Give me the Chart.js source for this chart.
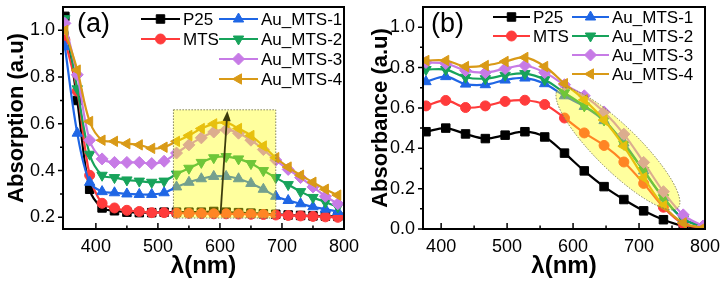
<!DOCTYPE html>
<html>
<head>
<meta charset="utf-8">
<script src="https://cdn.jsdelivr.net/npm/chart.js@4.4.1/dist/chart.umd.min.js"></script>
<style>
  html, body { margin: 0; padding: 0; background: #fff; }
  #wrap { position: relative; width: 727px; height: 283px; }
  canvas { position: absolute; top: 0; }
</style>
</head>
<body>
<div id="wrap">
  <canvas id="chartA" width="364" height="283" style="left:0"></canvas>
  <canvas id="chartB" width="363" height="283" style="left:364px"></canvas>
</div>
<script>
// ---- data, panel (a): absorption vs wavelength
const waveA = [350, 370, 390, 410, 430, 450, 470, 490, 510, 530, 550, 570, 590, 610, 630, 650, 670, 690, 710, 730, 750, 770, 790]
const p25A = [1.06, 0.70, 0.32, 0.24, 0.228, 0.222, 0.22, 0.22, 0.222, 0.222, 0.222, 0.222, 0.225, 0.222, 0.22, 0.218, 0.215, 0.213, 0.21, 0.208, 0.206, 0.205, 0.204]
const mtsA = [0.96, 0.74, 0.38, 0.26, 0.24, 0.23, 0.225, 0.22, 0.22, 0.218, 0.217, 0.216, 0.215, 0.215, 0.214, 0.213, 0.212, 0.21, 0.208, 0.206, 0.204, 0.202, 0.2]
const au1A = [0.93, 0.56, 0.35, 0.31, 0.305, 0.30, 0.298, 0.298, 0.305, 0.33, 0.35, 0.365, 0.375, 0.375, 0.365, 0.345, 0.32, 0.29, 0.272, 0.258, 0.245, 0.235, 0.225]
const au2A = [1.05, 0.75, 0.47, 0.38, 0.37, 0.36, 0.355, 0.35, 0.355, 0.385, 0.41, 0.435, 0.455, 0.46, 0.45, 0.43, 0.40, 0.37, 0.34, 0.31, 0.285, 0.265, 0.245]
const au3A = [1.03, 0.81, 0.53, 0.45, 0.435, 0.435, 0.435, 0.43, 0.44, 0.475, 0.51, 0.54, 0.565, 0.575, 0.56, 0.53, 0.49, 0.445, 0.405, 0.37, 0.33, 0.29, 0.258]
const au4A = [1.0, 0.83, 0.61, 0.53, 0.525, 0.515, 0.51, 0.495, 0.50, 0.525, 0.55, 0.58, 0.60, 0.605, 0.58, 0.55, 0.505, 0.455, 0.415, 0.38, 0.35, 0.32, 0.295]

// ---- data, panel (b): absorbance vs wavelength
const waveB = [377, 407, 437, 467, 497, 527, 557, 587, 617, 647, 677, 707, 737, 767, 797]
const p25B = [0.482, 0.50, 0.471, 0.448, 0.465, 0.482, 0.456, 0.376, 0.288, 0.21, 0.146, 0.09, 0.046, 0.015, 0.005]
const mtsB = [0.61, 0.637, 0.602, 0.61, 0.632, 0.638, 0.617, 0.55, 0.476, 0.414, 0.332, 0.226, 0.108, 0.026, 0.005]
const au1B = [0.73, 0.755, 0.718, 0.715, 0.738, 0.748, 0.72, 0.66, 0.607, 0.537, 0.426, 0.288, 0.154, 0.05, 0.013]
const au2B = [0.79, 0.79, 0.752, 0.745, 0.762, 0.77, 0.74, 0.675, 0.61, 0.54, 0.42, 0.29, 0.155, 0.05, 0.01]
const au3B = [0.825, 0.82, 0.785, 0.775, 0.795, 0.81, 0.775, 0.715, 0.66, 0.58, 0.47, 0.33, 0.185, 0.07, 0.015]
const au4B = [0.835, 0.835, 0.805, 0.81, 0.83, 0.85, 0.805, 0.72, 0.64, 0.54, 0.41, 0.255, 0.115, 0.03, 0.005]

// ---- ticks
const xTicks = [400, 500, 600, 700, 800]
const xMinor = [450, 550, 650, 750]
const yTicksA = [0.2, 0.4, 0.6, 0.8, 1.0]
const yMinorA = [0.3, 0.5, 0.7, 0.9]
const yTicksB = [0, 0.2, 0.4, 0.6, 0.8, 1.0]
const yMinorB = [0.1, 0.3, 0.5, 0.7, 0.9]

const seriesNames = ['P25', 'MTS', 'Au_MTS-1', 'Au_MTS-2', 'Au_MTS-3', 'Au_MTS-4']

// styles
const seriesColors = ['#000000', '#FF3B3B', '#1F66E5', '#17A35B', '#C77BE6', '#D99A17']
const markerStyles = ['rect', 'circle', 'triangle', 'triangle', 'rectRot', 'triangle']
const markerRotations = [0, 0, 0, 180, 0, -90]
const markerSizes = [6, 5, 6, 6, 6, 6]
const fontFamily = "'Liberation Sans', Arial, sans-serif"

function buildDatasets(xs, seriesList) {
    return seriesList.map((vals, i) => ({
        label: seriesNames[i],
        data: xs.map((x, k) => ({x: x, y: vals[k]})),
        borderColor: seriesColors[i],
        backgroundColor: seriesColors[i],
        borderWidth: 2.2,
        pointStyle: markerStyles[i],
        pointRotation: markerRotations[i],
        pointRadius: markerSizes[i],
        pointBorderWidth: 1,
        tension: 0.35,
        order: 5 - i,
    }))
}

// highlight, frame, inward ticks, legend and panel letter
function makeDecor(cfg) {
    return {
        id: 'decor',
        afterDatasetsDraw(chart) {
            const ctx = chart.ctx
            const xs = chart.scales.x
            const ys = chart.scales.y
            const h = cfg.highlight
            ctx.save()
            ctx.fillStyle = 'rgba(255,255,0,0.38)'
            ctx.strokeStyle = '#80805a'
            ctx.lineWidth = 1
            ctx.setLineDash([1.5, 1.5])
            ctx.beginPath()
            const ax = xs.getPixelForValue(h.x0), ay = ys.getPixelForValue(h.y0)
            const bx = xs.getPixelForValue(h.x1), by = ys.getPixelForValue(h.y1)
            if (h.type === 'rect') {
                ctx.rect(ax, by, bx - ax, ay - by)
            } else {
                const cx = (ax + bx) / 2, cy = (ay + by) / 2
                const rx = Math.hypot(bx - ax, by - ay) / 2
                ctx.ellipse(cx, cy, rx, h.halfWidth, Math.atan2(by - ay, bx - ax), 0, Math.PI * 2)
            }
            ctx.fill()
            ctx.stroke()
            ctx.setLineDash([])
            if (cfg.arrow) {
                const a = cfg.arrow
                const x0 = xs.getPixelForValue(a.x0), y0 = ys.getPixelForValue(a.y0)
                const x1 = xs.getPixelForValue(a.x1), y1 = ys.getPixelForValue(a.y1)
                const ang = Math.atan2(y1 - y0, x1 - x0)
                ctx.strokeStyle = '#3b3b0c'
                ctx.fillStyle = '#3b3b0c'
                ctx.lineWidth = 1.8
                ctx.beginPath()
                ctx.moveTo(x0, y0)
                ctx.lineTo(x1 - Math.cos(ang) * 8, y1 - Math.sin(ang) * 8)
                ctx.stroke()
                ctx.beginPath()
                ctx.moveTo(x1, y1)
                ctx.lineTo(x1 - Math.cos(ang) * 10 + Math.sin(ang) * 4, y1 - Math.sin(ang) * 10 - Math.cos(ang) * 4)
                ctx.lineTo(x1 - Math.cos(ang) * 10 - Math.sin(ang) * 4, y1 - Math.sin(ang) * 10 + Math.cos(ang) * 4)
                ctx.closePath()
                ctx.fill()
            }
            ctx.restore()
        },
        afterDraw(chart) {
            const ctx = chart.ctx
            const area = chart.chartArea
            const xs = chart.scales.x
            const ys = chart.scales.y
            ctx.save()
            ctx.strokeStyle = '#000'
            ctx.lineWidth = 1.5
            ctx.beginPath()
            xTicks.forEach(v => {
                const p = xs.getPixelForValue(v)
                ctx.moveTo(p, area.bottom); ctx.lineTo(p, area.bottom - 6)
            })
            xMinor.forEach(v => {
                const p = xs.getPixelForValue(v)
                ctx.moveTo(p, area.bottom); ctx.lineTo(p, area.bottom - 3.5)
            })
            cfg.yTicks.forEach(v => {
                const p = ys.getPixelForValue(v)
                ctx.moveTo(area.left, p); ctx.lineTo(area.left - 5, p)
            })
            cfg.yMinor.forEach(v => {
                const p = ys.getPixelForValue(v)
                ctx.moveTo(area.left, p); ctx.lineTo(area.left - 3, p)
            })
            ctx.stroke()
            ctx.lineWidth = 2
            ctx.strokeRect(area.left, area.top, area.right - area.left, area.bottom - area.top)

            // legend
            const lg = cfg.legend
            ctx.font = '17px ' + fontFamily
            ctx.textBaseline = 'middle'
            ctx.textAlign = 'left'
            lg.entries.forEach((e, i) => {
                const x0 = lg.cols[e[0]]
                const y = lg.rows[e[1]]
                const ds = chart.data.datasets[i]
                ctx.strokeStyle = ds.borderColor
                ctx.fillStyle = ds.backgroundColor
                ctx.lineWidth = 2.2
                ctx.beginPath()
                ctx.moveTo(x0, y); ctx.lineTo(x0 + lg.len, y)
                ctx.stroke()
                ctx.lineWidth = 1
                Chart.helpers.drawPoint(ctx, {
                    pointStyle: ds.pointStyle, rotation: ds.pointRotation,
                    radius: ds.pointRadius, borderWidth: 1
                }, x0 + lg.len / 2, y)
                ctx.fillStyle = '#000'
                ctx.fillText(ds.label, x0 + lg.len + 3, y + 1)
            })

            // panel letter
            ctx.font = '27px ' + fontFamily
            ctx.textBaseline = 'alphabetic'
            ctx.fillStyle = '#000'
            ctx.fillText(cfg.letter.text, cfg.letter.x, cfg.letter.y)
            ctx.restore()
        }
    }
}

function makeChart(canvasId, xs, seriesList, cfg) {
    const ctx = document.getElementById(canvasId).getContext('2d')
    return new Chart(ctx, {
        type: 'line',
        data: {datasets: buildDatasets(xs, seriesList)},
        options: {
            responsive: false,
            animation: false,
            devicePixelRatio: 1,
            layout: {padding: {left: 0, right: cfg.padRight, top: 3, bottom: 0}},
            scales: {
                x: {
                    type: 'linear',
                    min: cfg.xMin,
                    max: 800,
                    afterBuildTicks: s => { s.ticks = xTicks.map(v => ({value: v})) },
                    afterFit: s => {
                        s.height = 54
                        s.paddingLeft = 0
                        s.paddingRight = 0
                    },
                    grid: {drawOnChartArea: false, drawTicks: false},
                    border: {display: false},
                    ticks: {
                        color: '#000',
                        padding: 7,
                        maxRotation: 0,
                        autoSkip: false,
                        font: {size: 18, family: fontFamily},
                        callback: v => String(v),
                    },
                    title: {
                        display: true,
                        text: 'λ(nm)',
                        color: '#000',
                        font: {size: 24, weight: 'bold', family: fontFamily},
                        padding: {top: 0, bottom: 2},
                    },
                },
                y: {
                    min: cfg.yMin,
                    max: 1.1,
                    afterBuildTicks: s => { s.ticks = cfg.yTicks.map(v => ({value: v})) },
                    afterFit: s => {
                        s.width = cfg.yWidth
                        s.paddingTop = 0
                        s.paddingBottom = 0
                    },
                    grid: {drawOnChartArea: false, drawTicks: false},
                    border: {display: false},
                    ticks: {
                        color: '#000',
                        padding: 8,
                        autoSkip: false,
                        font: {size: 18, family: fontFamily},
                        callback: v => Number(v).toFixed(1),
                    },
                    title: {
                        display: true,
                        text: cfg.yTitle,
                        color: '#000',
                        font: {size: 22, weight: 'bold', family: fontFamily},
                    },
                },
            },
            plugins: {
                legend: {display: false},
                tooltip: {enabled: false},
            },
        },
        plugins: [makeDecor(cfg)],
    })
}

makeChart('chartA', waveA, [p25A, mtsA, au1A, au2A, au3A, au4A], {
    xMin: 347, yMin: 0.15, yWidth: 63, padRight: 20,
    yTicks: yTicksA, yMinor: yMinorA,
    yTitle: 'Absorption (a.u)',
    highlight: {type: 'rect', x0: 525, y0: 0.197, x1: 690, y1: 0.66},
    arrow: {x0: 601, y0: 0.215, x1: 612, y1: 0.655},
    legend: {cols: [141, 219], rows: [19, 39, 59, 79], len: 39,
        entries: [[0, 0], [0, 1], [1, 0], [1, 1], [1, 2], [1, 3]]},
    letter: {text: '(a)', x: 77, y: 32},
})

makeChart('chartB', waveB, [p25B, mtsB, au1B, au2B, au3B, au4B], {
    xMin: 372.5, yMin: 0, yWidth: 59, padRight: 22,
    yTicks: yTicksB, yMinor: yMinorB,
    yTitle: 'Absorbance (a.u)',
    highlight: {type: 'ellipse', x0: 577, y0: 0.69, x1: 759, y1: 0.105, halfWidth: 22},
    legend: {cols: [129, 208], rows: [17, 36, 55, 74], len: 37,
        entries: [[0, 0], [0, 1], [1, 0], [1, 1], [1, 2], [1, 3]]},
    letter: {text: '(b)', x: 67, y: 32},
})
</script>
</body>
</html>
